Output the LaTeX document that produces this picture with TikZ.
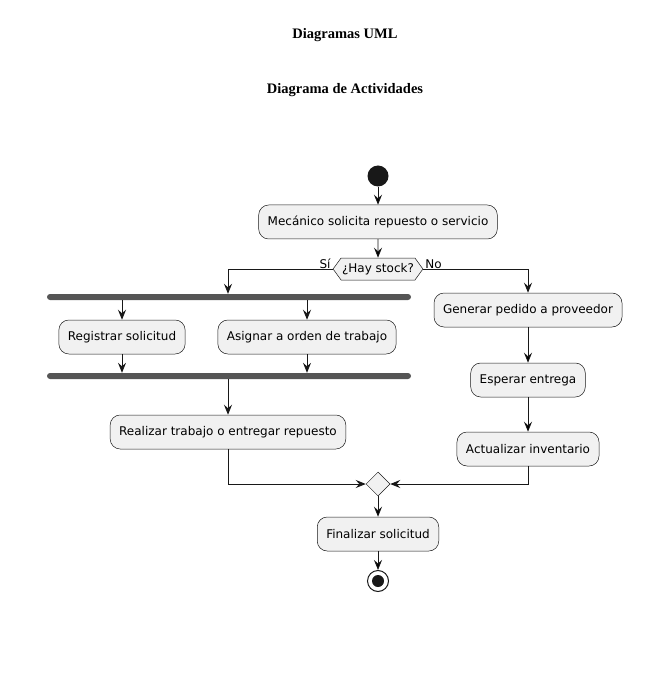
\documentclass[tikz,border=0pt]{standalone}
\usepackage{fontspec}
\setmainfont{DejaVu Sans}
\newfontfamily\titlefont{Liberation Serif}
\usetikzlibrary{positioning, arrows.meta, shapes.geometric, shapes.symbols}
\definecolor{umlline}{HTML}{181818}
\definecolor{umlfill}{HTML}{F1F1F1}
\definecolor{umlbar}{HTML}{555555}

\begin{document}
\begin{tikzpicture}[x=1pt, y=-1pt, font=\fontsize{12}{14}\selectfont,
    action/.style={draw=umlline, fill=umlfill, line width=0.5pt, rounded corners=10pt, minimum height=34pt, inner xsep=9pt},
    bar/.style={fill=umlbar, rounded corners=3pt, minimum width=364pt, minimum height=6pt, inner sep=0pt},
    arr/.style={draw=umlline, line width=0.8pt, -{Stealth[length=10pt, width=8pt, inset=3.5pt]}},
    lbl/.style={inner sep=0pt},
    title/.style={font=\titlefont\bfseries\fontsize{14.5}{17}\selectfont}]
    \useasboundingbox (0,0) rectangle (653,692);

    \node[title] (t1) at (345,35) {Diagramas UML};
    \node[title] (t2) at (345,90) {Diagrama de Actividades};

    % flujo principal
    \node[circle, fill=umlline, minimum size=21pt, inner sep=0pt] (start) at (378,176) {};
    \node[action] (solic) at (378,222) {Mecánico solicita repuesto o servicio};
    \node[draw=umlline, fill=umlfill, line width=0.5pt, shape=signal, signal to=east and west,
          signal pointer angle=108, minimum height=22pt, inner xsep=1pt, inner ysep=2pt] (stock) at (378,269) {¿Hay stock?};
    \node[lbl, above left=0pt and 2pt of stock.west] (si) {Sí};
    \node[lbl, above right=0pt and 2pt of stock.east] (no) {No};

    % rama si
    \node[bar] (fork) at (229,297) {};
    \node[action] (reg) at (122,337) {Registrar solicitud};
    \node[action] (asig) at (307,337) {Asignar a orden de trabajo};
    \node[bar] (join) at (229,376) {};
    \node[action] (real) at (228,432) {Realizar trabajo o entregar repuesto};

    % rama no
    \node[action] (ped) at (528,310) {Generar pedido a proveedor};
    \node[action] (esp) at (528,380) {Esperar entrega};
    \node[action] (inv) at (528,449) {Actualizar inventario};

    % cierre
    \node[diamond, draw=umlline, fill=umlfill, line width=0.5pt, minimum size=24pt, inner sep=0pt] (merge) at (378,484) {};
    \node[action] (fin) at (378,534) {Finalizar solicitud};
    \node[circle, draw=umlline, fill=white, line width=1pt, minimum size=21pt, inner sep=0pt] (stop) at (378,581) {};
    \node[circle, fill=umlline, minimum size=12pt, inner sep=0pt] (stopdot) at (stop) {};

    \path[arr]
    (start) edge (solic)
    (solic) edge (stock)
    (ped) edge (esp)
    (esp) edge (inv)
    (merge) edge (fin)
    (fin) edge (stop);

    \draw[arr] (stock.west) -| (real |- fork.north);
    \draw[arr] (stock.east) -| (ped);
    \draw[arr] (reg |- fork.south) -- (reg.north);
    \draw[arr] (asig |- fork.south) -- (asig.north);
    \draw[arr] (reg.south) -- (reg |- join.north);
    \draw[arr] (asig.south) -- (asig |- join.north);
    \draw[arr] (real |- join.south) -- (real.north);
    \draw[arr] (real) |- (merge.west);
    \draw[arr] (inv) |- (merge.east);
\end{tikzpicture}
\end{document}
